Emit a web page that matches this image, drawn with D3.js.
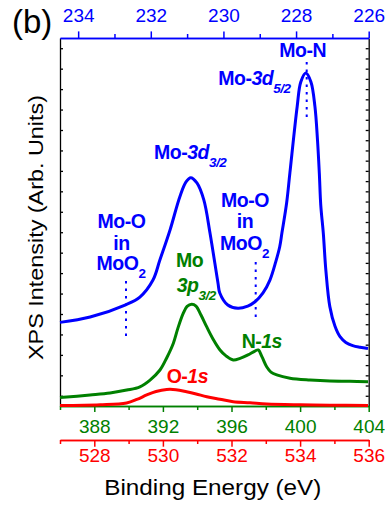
<!DOCTYPE html>
<html>
<head>
<meta charset="utf-8">
<script src="https://cdn.jsdelivr.net/npm/d3@7"></script>
<style>
  body { margin: 0; background: #fff; }
  text { font-family: Arial, "Liberation Sans", sans-serif; }
</style>
</head>
<body>
<svg id="chart" width="385" height="505"></svg>
<script>
// Mo 3d (top axis, eV)
var blueE = [234.50, 233.67, 232.71, 232.30, 231.94, 231.75, 231.47, 231.20, 231.03, 230.90,
             230.73, 230.54, 230.37, 230.15, 230.10, 229.88, 229.60, 229.33, 229.13, 228.91,
             228.72, 228.56, 228.45, 228.39, 228.26, 228.17, 227.97, 227.87, 227.73, 227.59,
             227.48, 227.41, 227.36, 227.32, 227.25, 227.18, 227.07, 226.93, 226.79, 226.63,
             226.44, 226.24, 226.02];
var blueI = [4.09, 4.35, 4.94, 5.33, 6.16, 7.14, 8.61, 10.24, 10.96, 11.17,
             10.91, 10.08, 8.46, 6.02, 5.53, 4.94, 4.78, 4.89, 5.10, 5.53,
             6.16, 7.05, 7.79, 8.46, 9.93, 11.40, 14.64, 15.85, 16.29, 15.85,
             14.64, 13.01, 11.40, 9.83, 8.46, 6.65, 4.86, 3.91, 3.39, 3.11,
             2.95, 2.87, 2.81];

// Mo 3p / N 1s (green axis)
var greenE = [386.00, 387.75, 388.92, 389.89, 390.66, 391.25, 391.83, 392.22, 392.61, 392.88,
              393.19, 393.41, 393.68, 393.93, 394.22, 394.55, 394.92, 395.33, 395.68, 396.10,
              396.50, 396.96, 397.37, 397.56, 397.78, 398.05, 398.30, 398.64, 399.41, 400.58,
              401.74, 402.91, 403.96];
var greenI = [0.41, 0.54, 0.64, 0.78, 0.94, 1.27, 1.76, 2.35, 3.07, 3.82,
              4.54, 4.87, 4.98, 4.89, 4.45, 3.88, 3.28, 2.74, 2.45, 2.25,
              2.33, 2.50, 2.69, 2.74, 2.40, 1.92, 1.66, 1.52, 1.36, 1.27,
              1.22, 1.21, 1.19];

// O 1s (red axis)
var redE = [527.00, 528.17, 528.94, 529.24, 529.53, 529.80, 530.11, 530.38, 530.69, 530.97,
            531.28, 531.66, 532.05, 532.54, 533.03, 534.00, 534.87, 535.98];
var redI = [0.02, 0.06, 0.15, 0.32, 0.54, 0.71, 0.81, 0.80, 0.70, 0.59,
            0.45, 0.33, 0.21, 0.16, 0.10, 0.06, 0.04, 0.03];

var topTicks = [234, 232, 230, 228, 226];
var greenTicks = [388, 392, 396, 400, 404];
var redTicks = [528, 530, 532, 534, 536];

var BLUE = "#0000ff", GREEN = "#008000", RED = "#ff0000";
var padL = 60, padR = 368.7, padT = 38, padB = 406;

var svg = d3.select("#chart");

var xTop = d3.scaleLinear().domain([234.5, 226]).range([padL, padR]);
var xGreen = d3.scaleLinear().domain([386, 404]).range([padL, padR]);
var xRed = d3.scaleLinear().domain([527, 536]).range([padL, padR]);
var y = d3.scaleLinear().domain([0, 18]).range([padB, padT]);

function styleAxis(g, color, w) {
  g.select(".domain").attr("stroke", color).attr("stroke-width", w);
  g.selectAll(".tick line").attr("stroke", color).attr("stroke-width", w);
  g.selectAll("text").attr("fill", color).style("font-size", "19px")
    .style("font-family", "Arial, 'Liberation Sans', sans-serif");
}

// left / right frame
var yl = svg.append("g").attr("transform", "translate(" + padL + ",0)")
  .call(d3.axisLeft(y).tickValues(d3.range(0.5, 18, 1)).tickSize(-3).tickSizeOuter(0).tickFormat(""));
styleAxis(yl, "#000", 1.3);
var yr = svg.append("g").attr("transform", "translate(" + padR + ",0)")
  .call(d3.axisRight(y).tickValues(d3.range(0.5, 18, 0.5)).tickSize(-3).tickSizeOuter(0).tickFormat(""));
styleAxis(yr, "#000", 1.3);

// top axis (blue)
var tMinor = svg.append("g").attr("transform", "translate(0," + padT + ")")
  .call(d3.axisTop(xTop).tickValues([233, 231, 229, 227]).tickSize(4).tickSizeOuter(0).tickFormat(""));
styleAxis(tMinor, BLUE, 1.5);
var tMajor = svg.append("g").attr("transform", "translate(0," + padT + ")")
  .call(d3.axisTop(xTop).tickValues(topTicks).tickSize(6.6).tickSizeOuter(0));
styleAxis(tMajor, BLUE, 1.5);
tMajor.selectAll("text").attr("y", -16.3).attr("dy", null);

// bottom axis (green)
var gMinor = svg.append("g").attr("transform", "translate(0," + padB + ")")
  .call(d3.axisBottom(xGreen).tickValues([386, 390, 394, 398, 402]).tickSize(4).tickSizeOuter(0).tickFormat(""));
styleAxis(gMinor, GREEN, 1.5);
var gMajor = svg.append("g").attr("transform", "translate(0," + padB + ")")
  .call(d3.axisBottom(xGreen).tickValues(greenTicks).tickSize(6).tickSizeOuter(0));
styleAxis(gMajor, GREEN, 1.5);
gMajor.selectAll("text").attr("y", 27.3).attr("dy", null);

// second bottom axis (red)
var rMinor = svg.append("g").attr("transform", "translate(0,440)")
  .call(d3.axisBottom(xRed).tickValues([527, 529, 531, 533, 535]).tickSize(4).tickSizeOuter(0).tickFormat(""));
styleAxis(rMinor, RED, 1.5);
var rMajor = svg.append("g").attr("transform", "translate(0,440)")
  .call(d3.axisBottom(xRed).tickValues(redTicks).tickSize(6.7).tickSizeOuter(0));
styleAxis(rMajor, RED, 1.5);
rMajor.selectAll("text").attr("y", 21.5).attr("dy", null);

// curves
function drawLine(xs, ys, xScale, color) {
  var pts = xs.map(function(d, i) { return [d, ys[i]]; });
  svg.append("path")
    .datum(pts)
    .attr("fill", "none")
    .attr("stroke", color)
    .attr("stroke-width", 3)
    .attr("stroke-linejoin", "round")
    .attr("d", d3.line()
      .x(function(d) { return xScale(d[0]); })
      .y(function(d) { return y(d[1]); })
      .curve(d3.curveCatmullRom.alpha(0.5)));
}
drawLine(redE, redI, xRed, RED);
drawLine(greenE, greenI, xGreen, GREEN);
drawLine(blueE, blueI, xTop, BLUE);

// dotted markers
function dots(x, y1, y2) {
  svg.append("line")
    .attr("x1", x).attr("x2", x).attr("y1", y1).attr("y2", y2)
    .attr("stroke", BLUE).attr("stroke-width", 2)
    .attr("stroke-dasharray", "2.5,5");
}
dots(126, 281, 341);
dots(255.7, 262, 319);
dots(306.7, 62, 121);

// labels with sub/italic parts
function label(x, yb, color, parts, anchor) {
  var t = svg.append("text")
    .attr("x", x).attr("y", yb)
    .attr("fill", color)
    .attr("text-anchor", anchor || "start")
    .style("font-size", "19.5px")
    .style("font-weight", "bold")
    .style("letter-spacing", "-0.5px");
  parts.forEach(function(p) {
    var s = t.append("tspan").text(p[0]);
    if (p[1] == "i") s.style("font-style", "italic");
    if (p[1] == "sub") s.style("font-style", "italic").style("font-size", "13.5px").attr("dy", 8);
    if (p[1] == "sub2") s.style("font-size", "13.5px").attr("dy", 8);
  });
  return t;
}

label(302.7, 57.3, BLUE, [["Mo-N"]], "middle");
label(218.3, 85, BLUE, [["Mo-"], ["3d", "i"], ["5/2", "sub"]]);
label(154, 159, BLUE, [["Mo-"], ["3d", "i"], ["3/2", "sub"]]);

label(121.5, 228.3, BLUE, [["Mo-O"]], "middle");
label(121.5, 250, BLUE, [["in"]], "middle");
label(121, 270, BLUE, [["MoO"], ["2", "sub2"]], "middle");

label(245, 206.7, BLUE, [["Mo-O"]], "middle");
label(245, 228.3, BLUE, [["in"]], "middle");
label(244.5, 250, BLUE, [["MoO"], ["2", "sub2"]], "middle");

label(189.7, 266.7, GREEN, [["Mo"]], "middle");
label(176.7, 291.7, GREEN, [["3p", "i"], ["3/2", "sub"]]);
label(241.7, 348.3, GREEN, [["N-"], ["1s", "i"]]);
label(166.7, 383.3, RED, [["O-"], ["1s", "i"]]);

// panel letter and titles
svg.append("text").attr("x", 12).attr("y", 33)
  .style("font-size", "33px").attr("fill", "#000").text("(b)");

svg.append("text")
  .attr("x", 212.8).attr("y", 495)
  .attr("text-anchor", "middle")
  .style("font-size", "22.5px")
  .attr("textLength", 217)
  .attr("lengthAdjust", "spacingAndGlyphs")
  .text("Binding Energy (eV)");

svg.append("text")
  .attr("transform", "translate(42.7,227.5) rotate(-90)")
  .attr("text-anchor", "middle")
  .style("font-size", "21px")
  .attr("textLength", 265)
  .attr("lengthAdjust", "spacingAndGlyphs")
  .text("XPS Intensity (Arb. Units)");
</script>
</body>
</html>
